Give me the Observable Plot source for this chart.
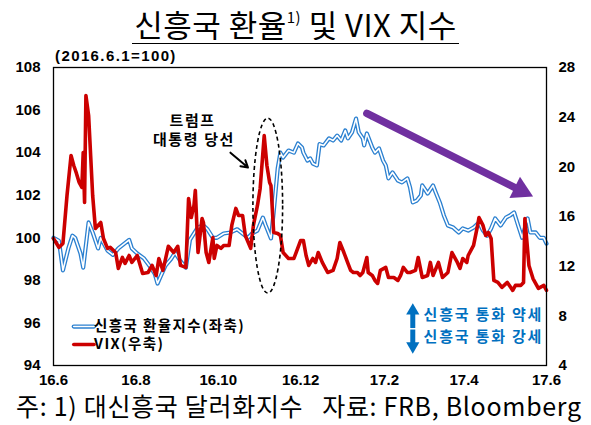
<!DOCTYPE html>
<html><head><meta charset="utf-8">
<script src="https://cdn.jsdelivr.net/npm/d3@7"></script>
<script src="https://cdn.jsdelivr.net/npm/@observablehq/plot@0.6"></script>
<style>
body{margin:0;background:#fff;}
#wrap{position:relative;width:591px;height:425px;overflow:hidden;background:#fff;font-family:"Noto Sans CJK KR",sans-serif;color:#000;}
#wrap svg{position:absolute;left:0;top:0;}
#title{position:absolute;left:0;top:4px;width:591px;text-align:center;font-size:31px;line-height:39px;font-weight:400;letter-spacing:0.5px;}
#title span{display:inline-block;border-bottom:1.6px solid #000;line-height:39px;padding:0 2px;}
#title sup{font-size:15px;vertical-align:14px;line-height:0;}
#sub{position:absolute;left:55px;top:47px;font-family:"Liberation Sans",Arial,sans-serif;font-weight:bold;font-size:15px;letter-spacing:1.4px;}
#foot{position:absolute;left:16px;top:390px;font-size:25px;line-height:30px;letter-spacing:0.7px;white-space:pre;}
.ls13 text{letter-spacing:1.4px;}
.ls15 text{letter-spacing:1.6px;}
.ls18 text{letter-spacing:1.8px;}
</style></head>
<body>
<div id="wrap">
  <div id="title"><span>신흥국 환율<sup>1)</sup> 및 VIX 지수</span></div>
  <div id="sub">(2016.6.1=100)</div>
  <div id="foot">주: 1) 대신흥국 달러화지수   자료: FRB, Bloomberg</div>
</div>
<script>
// ---- data (days since 2016-06-01) ----
const emDays = [0,4,7,11,14,16,20,22,26,29,33,35,40,44,48,52,56,58,62,67,72,75,77,79,83,87,90,94,98,101,107,111,114,118,121,126,131,136,140,144,147,151,155,157,161,163,166,168,170,174,178,181,184,185,188,190,192,195,197,200,204,207,210,213,216,218,221,224,226,229,230,232,236,238,241,244,246,248,251,255,258,262,264,266,269,272,273,277,281,283,286,289,292,296,300,303,307,311,315,318,321,324,327,331,335,338,341,344,347,351,353,357,360,363,365];
const emValues = [100.0,99.86,98.47,99.5,100.1,100.0,99.26,98.6,100.72,100.25,99.5,100.0,99.4,99.2,99.5,99.7,99.9,99.5,99.26,99.03,98.6,98.3,97.85,98.14,98.7,99.0,99.3,98.9,98.6,99.9,100.5,100.58,100.4,100.0,100.0,100.2,100.25,100.4,100.2,100.0,100.2,100.34,100.95,100.6,99.97,101.2,103.26,104.0,103.77,104.1,104.0,104.43,104.24,104.0,103.63,103.73,103.49,103.4,104.4,104.34,104.67,104.57,104.8,104.57,105.04,104.67,104.95,105.6,104.95,104.67,104.34,104.9,104.24,104.0,104.2,103.63,103.4,102.79,103.07,102.69,102.6,102.79,102.36,101.66,101.75,101.99,102.46,102.08,102.46,102.13,101.66,101.05,100.58,100.48,100.25,100.44,100.34,100.48,100.72,100.34,100.1,100.44,100.91,100.58,100.95,101.05,101.19,100.58,100.0,100.91,100.25,100.25,100.0,100.0,99.73];
const vixDays = [0,4,7,10,13,15,17,19,21,22,23,24,26,29,31,35,37,40,42,46,48,51,53,56,58,62,66,70,73,76,78,81,83,85,89,92,94,98,100,102,104,105,107,110,111,113,115,118,119,121,124,126,130,132,135,137,140,142,146,148,151,153,156,158,160,161,163,166,168,170,174,178,183,185,187,189,192,194,196,199,203,207,210,212,215,218,220,222,225,227,229,232,233,236,238,240,242,246,248,252,255,257,259,262,264,268,270,273,277,279,281,285,288,292,295,299,301,303,306,307,311,314,315,318,320,322,324,326,329,332,336,340,342,346,348,349,352,355,359,363,365];
const vixValues = [14.23,13.51,13.83,17.69,20.91,20.11,19.47,18.74,18.34,21.16,17.13,25.75,24.14,17.69,15.04,15.52,14.23,13.43,13.51,13.1,11.82,12.7,12.22,12.86,12.3,12.86,11.41,11.49,12.06,11.25,12.62,11.66,12.6,13.6,13.1,13.6,12.06,11.9,17.45,15.92,16.89,18.1,13.1,15.84,15.52,13.1,12.3,14.31,12.62,13.67,13.43,13.67,13.67,15.28,16.65,16.08,16.08,14.47,13.43,15.28,16.89,18.26,22.52,20.11,18.74,18.5,14.71,14.63,14.47,13.1,12.62,12.62,14.07,14.07,12.86,12.06,12.62,12.3,13.1,12.3,11.49,11.66,12.62,13.91,13.1,12.22,11.66,11.49,11.49,11.25,11.49,12.7,11.49,11.25,10.85,10.61,11.66,11.9,11.09,11.09,10.85,11.25,11.9,11.49,11.49,11.66,12.7,11.09,11.25,12.3,11.25,12.3,11.09,11.49,13.1,12.3,11.82,12.62,12.3,12.86,13.67,15.28,15.92,15.28,14.47,14.71,14.23,10.85,10.69,10.29,10.69,10.05,10.45,10.45,10.69,15.84,12.06,11.0,10.21,10.45,10.05];
const leftTicks = [94,96,98,100,102,104,106,108];
const rightTicks = [4,8,12,16,20,24,28];
const xTickDates = ["2016-06-01","2016-08-01","2016-10-01","2016-12-01","2017-02-01","2017-04-01","2017-06-01"];
const xTickLabels = ["16.6","16.8","16.10","16.12","17.2","17.4","17.6"];
const emLabel = "신흥국 환율지수(좌축)";
const vixLabel = "VIX(우축)";
const trumpLines = ["트럼프","대통령 당선"];
const noteLabels = ["신흥국 통화 약세","신흥국 통화 강세"];

// ---- helpers ----
const start = new Date(Date.UTC(2016,5,1));
const day = d => d3.utcDay.offset(start, d);
const toLeft = v => 94 + (v - 4) * 14 / 24;
const fromLeft = y => 4 + (y - 94) * 24 / 14;
const em = emDays.map((d,i) => ({date: day(d), value: emValues[i]}));
const vix = vixDays.map((d,i) => ({date: day(d), value: toLeft(vixValues[i])}));
const tickDates = xTickDates.map(s => new Date(s + "T00:00:00Z"));
const tickMap = new Map(tickDates.map((d,i) => [+d, xTickLabels[i]]));

const BLUE = "#2b80d0", RED = "#cc0000", PURPLE = "#7030a0", NOTE = "#0070c0";
const KR = "Noto Sans CJK KR";

const ellipseMark = (index, scales) => {
  const x = scales.x, y = scales.y;
  const cx = x(day(159)), rx = (x(day(170)) - x(day(148))) / 2;
  const cy = (y(105.6) + y(97.38)) / 2, ry = (y(97.38) - y(105.6)) / 2;
  const e = document.createElementNS("http://www.w3.org/2000/svg", "ellipse");
  e.setAttribute("cx", cx); e.setAttribute("cy", cy);
  e.setAttribute("rx", rx); e.setAttribute("ry", ry);
  e.setAttribute("fill", "none"); e.setAttribute("stroke", "#000");
  e.setAttribute("stroke-width", 1.6); e.setAttribute("stroke-dasharray", "4,3");
  return e;
};

const krText = (label, x, y, opts = {}) =>
  Plot.text([label], {x, y, text: d => d, fontFamily: KR, fontWeight: "bold", fontSize: 15, fill: "#000", ...opts});

const chart = Plot.plot({
  width: 591, height: 425,
  marginLeft: 53, marginRight: 45, marginTop: 67, marginBottom: 60,
  style: {fontFamily: "Liberation Sans, Arial, sans-serif", fontSize: "15px", fontWeight: "bold", background: "transparent", overflow: "visible"},
  x: {type: "utc", domain: [day(0), day(365)]},
  y: {domain: [94, 108]},
  marks: [
    Plot.axisY(leftTicks, {anchor: "left", tickSize: 0, tickPadding: 13, tickFormat: d => d, fontWeight: "bold"}),
    Plot.axisY(rightTicks.map(toLeft), {anchor: "right", tickSize: 0, tickPadding: 12, tickFormat: d => Math.round(fromLeft(d)), fontWeight: "bold"}),
    Plot.axisX(tickDates, {anchor: "bottom", tickSize: 0, tickPadding: 9, tickFormat: d => tickMap.get(+d), fontWeight: "bold"}),
    // EM currency index: double line
    Plot.line(em, {x: "date", y: "value", stroke: BLUE, strokeWidth: 4.2, strokeLinejoin: "round"}),
    Plot.line(em, {x: "date", y: "value", stroke: "white", strokeWidth: 1.6, strokeLinejoin: "round"}),
    // VIX
    Plot.line(vix, {x: "date", y: "value", stroke: RED, strokeWidth: 3.6, strokeLinejoin: "round"}),
    // legend
    Plot.line([{d: day(15), v: 95.83}, {d: day(30), v: 95.83}], {x: "d", y: "v", stroke: BLUE, strokeWidth: 4.2}),
    Plot.line([{d: day(15), v: 95.83}, {d: day(30), v: 95.83}], {x: "d", y: "v", stroke: "white", strokeWidth: 1.6}),
    Plot.line([{d: day(15), v: 94.99}, {d: day(30), v: 94.99}], {x: "d", y: "v", stroke: RED, strokeWidth: 3.6}),
    krText(emLabel, day(30.5), 95.86, {textAnchor: "start", fontSize: 14.5, className: "ls13"}),
    krText(vixLabel, day(30.5), 94.97, {textAnchor: "start", fontSize: 14.5, className: "ls13"}),
    // Trump annotation
    krText(trumpLines[0], day(103.5), 105.5, {className: "ls15"}),
    krText(trumpLines[1], day(104.5), 104.57, {className: "ls15"}),
    Plot.arrow([{}], {x1: day(131), y1: 104.0, x2: day(144), y2: 103.3, stroke: "#000", strokeWidth: 2, headLength: 7}),
    ellipseMark,
    // purple trend arrow
    Plot.line([{d: day(232), v: 105.84}, {d: day(346), v: 102.22}], {x: "d", y: "v", stroke: PURPLE, strokeWidth: 7.5}),
    Plot.dot([{d: day(346.4), v: 102.22}], {x: "d", y: "v", symbol: "triangle", r: 8.8, fill: PURPLE, stroke: "none", rotate: 116.4}),
    // strength/weakness notes
    Plot.link([{}], {x1: day(266), y1: 96.49, x2: day(266), y2: 95.76, stroke: NOTE, strokeWidth: 5}),
    Plot.dot([{}], {x: day(266), y: 96.57, symbol: "triangle", r: 4.9, fill: NOTE, stroke: "none", rotate: 0}),
    Plot.link([{}], {x1: day(266), y1: 95.69, x2: day(266), y2: 94.99, stroke: NOTE, strokeWidth: 5}),
    Plot.dot([{}], {x: day(266), y: 94.91, symbol: "triangle", r: 4.9, fill: NOTE, stroke: "none", rotate: 180}),
    krText(noteLabels[0], day(274), 96.35, {textAnchor: "start", fill: NOTE, className: "ls18"}),
    krText(noteLabels[1], day(274), 95.32, {textAnchor: "start", fill: NOTE, className: "ls18"}),
    Plot.frame({stroke: "#000", strokeWidth: 1.3})
  ]
});
document.getElementById("wrap").prepend(chart);
</script>
</body></html>
